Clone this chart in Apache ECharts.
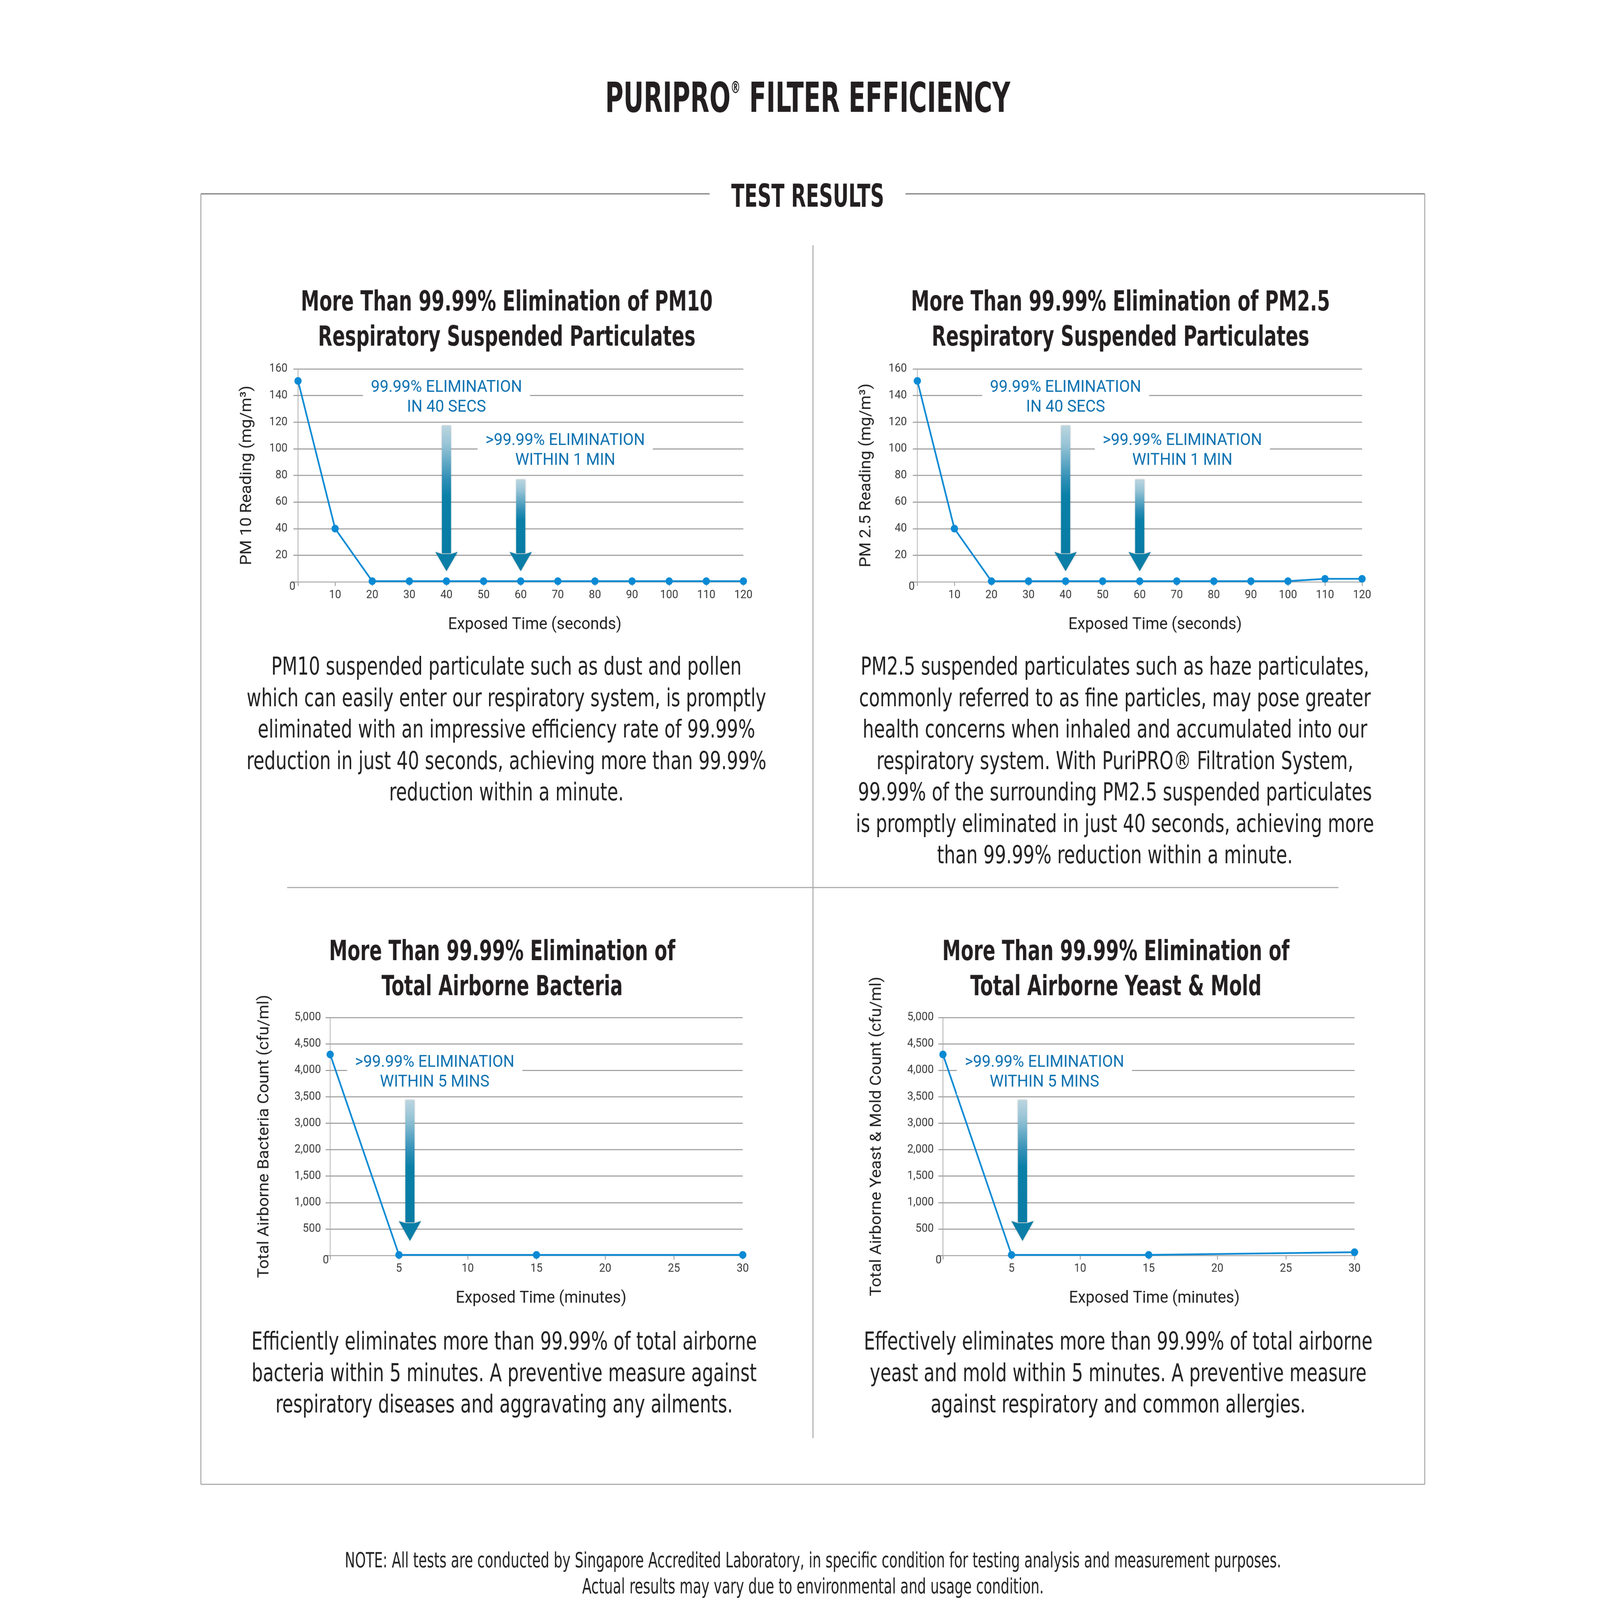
<!DOCTYPE html>
<html><head><meta charset="utf-8">
<script src="https://cdn.jsdelivr.net/npm/echarts@6/dist/echarts.min.js"></script>
<style>html,body{margin:0;padding:0;background:#fff;overflow:hidden}#c{width:4875px;height:4606px;transform-origin:0 0}</style>
</head><body><div id="c"></div><script>
// ---------------- DATA ----------------
const pm10Time = [0, 10, 20, 30, 40, 50, 60, 70, 80, 90, 100, 110, 120];
const pm10Values = [151, 40, 0.5, 0.5, 0.5, 0.5, 0.5, 0.5, 0.5, 0.5, 0.5, 0.5, 0.5];
const pm25Time = [0, 10, 20, 30, 40, 50, 60, 70, 80, 90, 100, 110, 120];
const pm25Values = [151, 40, 0.5, 0.5, 0.5, 0.5, 0.5, 0.5, 0.5, 0.5, 0.5, 2.3, 2.3];
const bacteriaTime = [0, 5, 15, 30];
const bacteriaValues = [4300, 10, 10, 10];
const yeastTime = [0, 5, 15, 30];
const yeastValues = [4300, 10, 10, 60];
const countTickValues = [0, 500, 1000, 1500, 2000, 3000, 3500, 4000, 4500, 5000];
const countTickLabels = ['0', '500', '1,000', '1,500', '2,000', '3,000', '3,500', '4,000', '4,500', '5,000'];

// annotations (data coordinates)
const pmNoteText = ['99.99% ELIMINATION\nIN 40 SECS', '>99.99% ELIMINATION\nWITHIN 1 MIN'];
const pm10NoteX = [40, 72];
const pm25NoteX = [40, 71.5];
const pmNoteY = [140, 100];
const pmArrowX = [40, 60];
const pmArrowTop = [117.5, 77];
const pmArrowBase = [22.5, 22.5];
const pmArrowTip = [8, 8];
const microNoteText = ['>99.99% ELIMINATION\nWITHIN 5 MINS'];
const bacteriaNoteX = [7.6];
const yeastNoteX = [7.4];
const microNoteY = [4000];
const microArrowX = [5.8];
const microArrowTop = [3440];
const microArrowBase = [650];
const microArrowTip = [275];

// texts
const mainTitleParts = ['PURIPRO', '®', ' FILTER EFFICIENCY'];
const sectionTitle = 'TEST RESULTS';
const pm10Title = ['More Than 99.99% Elimination of PM10', 'Respiratory Suspended Particulates'];
const pm25Title = ['More Than 99.99% Elimination of PM2.5', 'Respiratory Suspended Particulates'];
const bacteriaTitle = ['More Than 99.99% Elimination of', 'Total Airborne Bacteria'];
const yeastTitle = ['More Than 99.99% Elimination of', 'Total Airborne Yeast & Mold'];
const pm10Text = [
  'PM10 suspended particulate such as dust and pollen',
  'which can easily enter our respiratory system, is promptly',
  'eliminated with an impressive efficiency rate of 99.99%',
  'reduction in just 40 seconds, achieving more than 99.99%',
  'reduction within a minute.'];
const pm25Text = [
  'PM2.5 suspended particulates such as haze particulates,',
  'commonly referred to as fine particles, may pose greater',
  'health concerns when inhaled and accumulated into our',
  'respiratory system. With PuriPRO® Filtration System,',
  '99.99% of the surrounding PM2.5 suspended particulates',
  'is promptly eliminated in just 40 seconds, achieving more',
  'than 99.99% reduction within a minute.'];
const bacteriaText = [
  'Efficiently eliminates more than 99.99% of total airborne',
  'bacteria within 5 minutes. A preventive measure against',
  'respiratory diseases and aggravating any ailments.'];
const yeastText = [
  'Effectively eliminates more than 99.99% of total airborne',
  'yeast and mold within 5 minutes. A preventive measure',
  'against respiratory and common allergies.'];
const footerText = [
  'NOTE: All tests are conducted by Singapore Accredited Laboratory, in specific condition for testing analysis and measurement purposes.',
  'Actual results may vary due to environmental and usage condition.'];

// ---------------- HELPERS ----------------
const COND = '"Liberation Sans Narrow", "DejaVu Sans Condensed", "Arial Narrow", sans-serif';
const ROB = 'Roboto, "Noto Sans", sans-serif';
const DARK = '#231f20';
const BODY = '#222222';
const BLUE = '#0a8ad4';
const NOTE = '#0b70b0';
const GRIDC = '#9d9d9d';

const mctx = document.createElement('canvas').getContext('2d');
function measure(t, size, weight) { mctx.font = weight + ' ' + size + 'px ' + COND; return mctx.measureText(t).width; }

function textBlock(lines, cx, firstCenterY, size, weight, lh, targetW, color) {
  const w = Math.max.apply(null, lines.map(l => measure(l, size, weight)));
  return {
    type: 'text', x: cx, y: firstCenterY - lh / 2, scaleX: targetW / w, scaleY: 1, silent: true,
    style: {
      text: lines.join('\n'), fontSize: size, fontFamily: COND, fontWeight: weight, fill: color,
      align: 'center', verticalAlign: 'top', textAlign: 'center', textVerticalAlign: 'top', lineHeight: lh
    }
  };
}

// piecewise mapping of count values onto the evenly spaced tick positions of the count axis
function countPos(v) {
  for (let i = 1; i < countTickValues.length; i++) {
    if (v <= countTickValues[i]) {
      const a = countTickValues[i - 1], b = countTickValues[i];
      return (i - 1) + (v - a) / (b - a);
    }
  }
  return countTickValues.length - 1;
}

// ---------------- AXES ----------------
function xAxisCfg(gi, max, interval, name, shift) {
  return {
    type: 'value', gridIndex: gi, min: 0, max: max, interval: interval,
    name: name, nameLocation: 'middle', nameGap: 100,
    nameTextStyle: { fontFamily: ROB, fontSize: 48, color: '#222', padding: [0, 0, 0, shift] },
    axisLine: { show: true, lineStyle: { color: '#acacac', width: 3 } },
    axisTick: { show: true, length: 12, lineStyle: { color: '#acacac', width: 3 } },
    splitLine: { show: false },
    axisLabel: { margin: 22, fontFamily: ROB, fontSize: 33, color: '#3a3a3a', formatter: v => v === 0 ? '' : String(v) }
  };
}
function yAxisCfg(gi, max, interval, name, gap, margin, fmt) {
  return {
    type: 'value', gridIndex: gi, min: 0, max: max, interval: interval,
    name: name, nameLocation: 'middle', nameGap: gap,
    nameTextStyle: { fontFamily: ROB, fontSize: 48, color: '#222' },
    axisLine: { show: true, lineStyle: { color: '#a8a8a8', width: 2 } },
    axisTick: { show: true, length: 14, lineStyle: { color: GRIDC, width: 3 } },
    splitLine: { show: true, lineStyle: { color: GRIDC, width: 3 } },
    axisLabel: {
      margin: margin, fontFamily: ROB, fontSize: 33, color: '#3a3a3a', lineHeight: 30,
      formatter: v => { const s = fmt(v); return v === 0 ? '\n' + s : '{n|' + s + '}'; },
      rich: { n: { padding: [0, 24, 0, 0] } }
    }
  };
}

// ---------------- SERIES BUILDERS ----------------
function lineSeries(gi, xs, ys) {
  return {
    type: 'line', xAxisIndex: gi, yAxisIndex: gi, data: xs.map((x, i) => [x, ys[i]]),
    symbol: 'circle', symbolSize: 22, showSymbol: true, z: 3,
    lineStyle: { color: BLUE, width: 5 }, itemStyle: { color: BLUE }, silent: true
  };
}
const arrowGrad = {
  type: 'linear', x: 0, y: 0, x2: 0, y2: 1,
  colorStops: [
    { offset: 0, color: '#bcd6e0' }, { offset: 0.15, color: '#97c4d6' },
    { offset: 0.42, color: '#2f8fb6' }, { offset: 0.55, color: '#0a80a8' }, { offset: 1, color: '#087ca5' }]
};
function arrowSeries(gi, xs, tops, bases, tips) {
  return {
    type: 'custom', xAxisIndex: gi, yAxisIndex: gi, clip: false, silent: true, z: 4,
    data: xs.map((x, i) => [x, tops[i], bases[i], tips[i]]),
    renderItem: (params, api) => {
      const x = api.value(0);
      const pT = api.coord([x, api.value(1)]);
      const pB = api.coord([x, api.value(2)]);
      const pP = api.coord([x, api.value(3)]);
      const bw = 28, hw = 68;
      return {
        type: 'group', children: [
          { type: 'rect', shape: { x: pT[0] - bw / 2, y: pT[1], width: bw, height: pB[1] - pT[1] + 4 },
            style: { fill: arrowGrad, shadowBlur: 5, shadowColor: 'rgba(0,0,0,0.28)' } },
          { type: 'polygon', shape: { points: [[pP[0] - hw / 2, pB[1]], [pP[0] - bw / 2, pB[1] + 6], [pP[0] + bw / 2, pB[1] + 6], [pP[0] + hw / 2, pB[1]], [pP[0], pP[1]]] },
            style: { fill: '#0a7ea7', shadowBlur: 5, shadowColor: 'rgba(0,0,0,0.25)' } }
        ]
      };
    }
  };
}
function noteSeries(gi, xs, ys, texts) {
  return {
    type: 'custom', xAxisIndex: gi, yAxisIndex: gi, clip: false, silent: true, z: 5,
    data: xs.map((x, i) => [x, ys[i]]),
    renderItem: (params, api) => {
      const p = api.coord([api.value(0), api.value(1)]);
      return {
        type: 'text', x: p[0], y: p[1] + 6,
        style: {
          text: texts[params.dataIndex], fill: NOTE, fontFamily: ROB, fontSize: 48, lineHeight: 57,
          align: 'center', verticalAlign: 'middle', textAlign: 'center', textVerticalAlign: 'middle',
          backgroundColor: '#ffffff', padding: [8, 24]
        }
      };
    }
  };
}

// ---------------- GRAPHIC (frame + text) ----------------
const titleSize = 119;
const titleFontA = { fontSize: titleSize, fontWeight: 'bold', fontFamily: COND, fill: DARK };
const titleW = measure(mainTitleParts[0], titleSize, 'bold') + measure(mainTitleParts[1], 48, 'bold') + measure(mainTitleParts[2], titleSize, 'bold');
const graphics = [
  { type: 'text', x: 2461, y: 291, scaleX: 1234 / titleW, silent: true,
    style: {
      text: '{a|' + mainTitleParts[0] + '}{s|' + mainTitleParts[1] + '}{a|' + mainTitleParts[2] + '}',
      align: 'center', verticalAlign: 'middle', textAlign: 'center', textVerticalAlign: 'middle',
      rich: { a: titleFontA, s: { fontSize: 48, fontWeight: 'bold', fontFamily: COND, fill: DARK, verticalAlign: 'top' } }
    } },
  textBlock([sectionTitle], 2461, 572, 90, 'bold', 100, 466, DARK),
  // frame
  { type: 'line', silent: true, shape: { x1: 612, y1: 558, x2: 2162, y2: 558 }, style: { stroke: '#8e8e8e', lineWidth: 4 } },
  { type: 'line', silent: true, shape: { x1: 2759, y1: 558, x2: 4341, y2: 558 }, style: { stroke: '#8e8e8e', lineWidth: 4 } },
  { type: 'line', silent: true, shape: { x1: 612, y1: 558, x2: 612, y2: 4273 }, style: { stroke: '#a6a6a6', lineWidth: 3 } },
  { type: 'line', silent: true, shape: { x1: 4341, y1: 558, x2: 4341, y2: 4273 }, style: { stroke: '#a6a6a6', lineWidth: 3 } },
  { type: 'line', silent: true, shape: { x1: 612, y1: 4273, x2: 4341, y2: 4273 }, style: { stroke: '#a6a6a6', lineWidth: 3 } },
  { type: 'line', silent: true, shape: { x1: 2477, y1: 706, x2: 2477, y2: 4140 }, style: { stroke: '#a6a6a6', lineWidth: 3 } },
  { type: 'line', silent: true, shape: { x1: 875, y1: 2555, x2: 4078, y2: 2555 }, style: { stroke: '#a6a6a6', lineWidth: 3 } },
  // panel titles
  textBlock(pm10Title, 1544, 873, 80, 'bold', 101, 1255, DARK),
  textBlock(pm25Title, 3414, 873, 80, 'bold', 101, 1277, DARK),
  textBlock(bacteriaTitle, 1530, 2743, 80, 'bold', 101, 1055, DARK),
  textBlock(yeastTitle, 3400, 2743, 80, 'bold', 101, 1058, DARK),
  // paragraphs
  textBlock(pm10Text, 1543, 1924, 71, 'normal', 90.5, 1584, BODY),
  textBlock(pm25Text, 3397, 1924, 71, 'normal', 90.5, 1579, BODY),
  textBlock(bacteriaText, 1536, 3867, 71, 'normal', 90.5, 1540, BODY),
  textBlock(yeastText, 3407, 3867, 71, 'normal', 90.5, 1550, BODY),
  // footer
  textBlock(footerText, 2477, 4496, 61, 'normal', 75, 2853, BODY)
];

// ---------------- FIT PAGE TO WINDOW ----------------
const box = document.getElementById('c');
const vw = window.innerWidth, vh = window.innerHeight;
if (vw > 0 && vh > 0 && (Math.abs(vw - 4875) > 1 || Math.abs(vh - 4606) > 1)) {
  box.style.transform = 'scale(' + (vw / 4875) + ',' + (vh / 4606) + ')';
}

// ---------------- OPTION ----------------
const chart = echarts.init(box, null, { renderer: 'canvas', width: 4875, height: 4606 });
const countFmt = v => countTickLabels[v] !== undefined ? countTickLabels[v] : '';
const option = {
  backgroundColor: '#ffffff',
  animation: false,
  grid: [
    { left: 908, top: 1062, width: 1357, height: 613 },
    { left: 2795, top: 1062, width: 1355, height: 613 },
    { left: 1006, top: 2929, width: 1257, height: 685 },
    { left: 2873, top: 2929, width: 1254, height: 685 }
  ],
  xAxis: [
    xAxisCfg(0, 120, 10, 'Exposed Time (seconds)', 86),
    xAxisCfg(1, 120, 10, 'Exposed Time (seconds)', 94),
    xAxisCfg(2, 30, 5, 'Exposed Time (minutes)', 28),
    xAxisCfg(3, 30, 5, 'Exposed Time (minutes)', 34)
  ],
  yAxis: [
    yAxisCfg(0, 160, 20, 'PM 10 Reading (mg/m³)', 131, 8, v => String(v)),
    yAxisCfg(1, 160, 20, 'PM 2.5 Reading (mg/m³)', 131, 8, v => String(v)),
    yAxisCfg(2, 9, 1, 'Total Airborne Bacteria Count (cfu/ml)', 176, 4, countFmt),
    yAxisCfg(3, 9, 1, 'Total Airborne Yeast & Mold Count (cfu/ml)', 177, 4, countFmt)
  ],
  series: [
    lineSeries(0, pm10Time, pm10Values),
    lineSeries(1, pm25Time, pm25Values),
    lineSeries(2, bacteriaTime, bacteriaValues.map(countPos)),
    lineSeries(3, yeastTime, yeastValues.map(countPos)),
    arrowSeries(0, pmArrowX, pmArrowTop, pmArrowBase, pmArrowTip),
    arrowSeries(1, pmArrowX, pmArrowTop, pmArrowBase, pmArrowTip),
    arrowSeries(2, microArrowX, microArrowTop.map(countPos), microArrowBase.map(countPos), microArrowTip.map(countPos)),
    arrowSeries(3, microArrowX, microArrowTop.map(countPos), microArrowBase.map(countPos), microArrowTip.map(countPos)),
    noteSeries(0, pm10NoteX, pmNoteY, pmNoteText),
    noteSeries(1, pm25NoteX, pmNoteY, pmNoteText),
    noteSeries(2, bacteriaNoteX, microNoteY.map(countPos), microNoteText),
    noteSeries(3, yeastNoteX, microNoteY.map(countPos), microNoteText)
  ],
  graphic: { elements: graphics }
};
chart.setOption(option);
</script></body></html>
